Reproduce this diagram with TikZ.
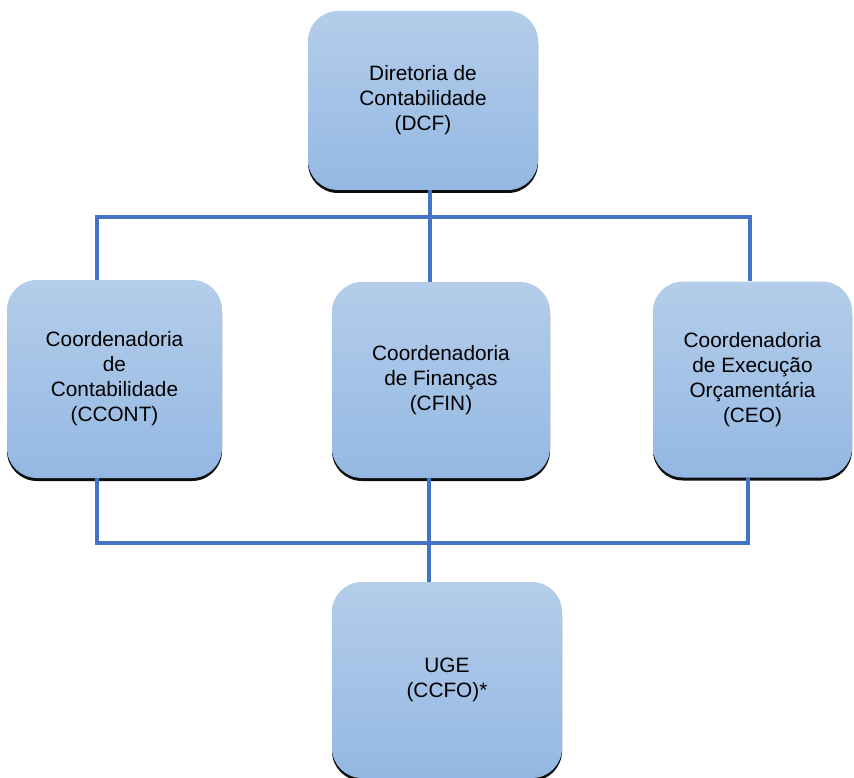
\documentclass[tikz,border=0pt]{standalone}
\usepackage{fontspec}
\setmainfont{Liberation Sans}
\usetikzlibrary{shadows}
\definecolor{boxtop}{RGB}{180,205,234}
\definecolor{boxbot}{RGB}{148,184,227}
\definecolor{conncol}{RGB}{68,114,196}
\tikzset{
  orgbox/.style={rectangle, rounded corners=30pt, top color=boxtop, bottom color=boxbot,
    draw=none, align=center, inner sep=2pt, text=black,
    font=\fontsize{20.8}{25}\selectfont,
    drop shadow={shadow xshift=0pt, shadow yshift=-3pt, fill=black, opacity=0.95}},
  conn/.style={draw=conncol, line width=4pt}
}
\begin{document}
\begin{tikzpicture}[x=1pt,y=-1pt]
\useasboundingbox (0,0) rectangle (854,778);
\node[orgbox, minimum width=230pt, minimum height=179pt] (dcf) at (423,100.5) {Diretoria de\\Contabilidade\\(DCF)};
\node[orgbox, minimum width=215pt, minimum height=198pt] (ccont) at (114.5,379) {Coordenadoria\\de\\Contabilidade\\(CCONT)};
\node[orgbox, minimum width=218pt, minimum height=196pt] (cfin) at (441,380) {Coordenadoria\\de Finanças\\(CFIN)};
\node[orgbox, minimum width=199pt, minimum height=196pt] (ceo) at (752.5,379.5) {Coordenadoria\\de Execução\\Orçamentária\\(CEO)};
\node[orgbox, minimum width=230pt, minimum height=196pt] (uge) at (447,680) {UGE\\(CCFO)*};
\coordinate (tl) at (97,217);
\coordinate (tr) at (750,217);
\coordinate (bl) at (97,543);
\coordinate (br) at (748,543);
\coordinate (mx) at (430,217);
\coordinate (my) at (429,543);
\begin{scope}[on background layer/.try]
\draw[conn] (tl |- ccont.north) -- (tl) -- (tr) -- (tr |- ceo.north);
\draw[conn] (mx |- dcf.south) -- (mx |- cfin.north);
\draw[conn] (bl |- ccont.south) -- (bl) -- (br) -- (br |- ceo.south);
\draw[conn] (my |- cfin.south) -- (my |- uge.north);
\end{scope}
\end{tikzpicture}
\end{document}
